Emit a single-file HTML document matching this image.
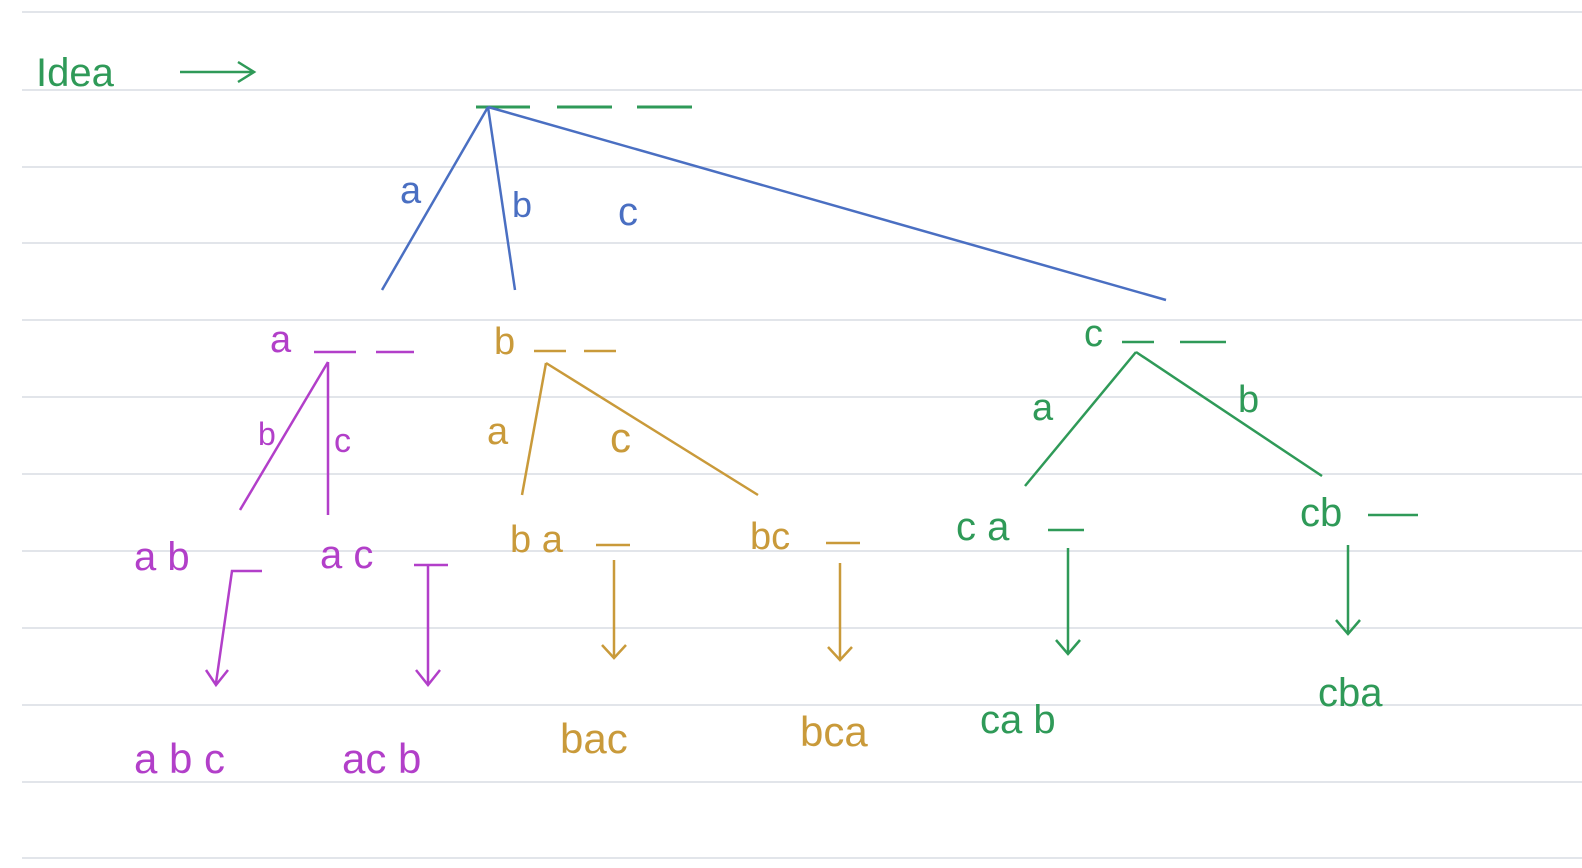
<!DOCTYPE html>
<html><head><meta charset="utf-8"><style>
html,body{margin:0;padding:0;background:#fff;}
svg{display:block;}
text{font-family:"Liberation Sans",sans-serif;}
</style></head><body>
<svg width="1582" height="868" viewBox="0 0 1582 868">
<g id="rules" stroke="#e2e5ea" stroke-width="2"></g>
<g fill="#2f9a58" stroke="#2f9a58">
<text x="36" y="86" font-size="40" stroke="none">Idea</text>
<line x1="180" y1="72" x2="252" y2="72" stroke-width="2.5"/><polyline points="238,62 254,72 238,82" fill="none" stroke-width="2.5"/>
<line x1="476" y1="107" x2="530" y2="107" stroke-width="3"/><line x1="557" y1="107" x2="612" y2="107" stroke-width="3"/><line x1="637" y1="107" x2="692" y2="107" stroke-width="3"/>
</g>
<g stroke="#4a6fc2" stroke-width="2.5" fill="#4a6fc2">
<line x1="488" y1="107" x2="382" y2="290"/><line x1="488" y1="107" x2="515" y2="290"/><line x1="488" y1="107" x2="1166" y2="300"/>
<text x="400" y="203" font-size="38" stroke="none">a</text><text x="512" y="217" font-size="36" stroke="none">b</text><text x="618" y="225" font-size="40" stroke="none">c</text>
</g>
<g stroke="#b23fc9" stroke-width="2.5" fill="#b23fc9">
<text x="270" y="352" font-size="38" stroke="none">a</text><line x1="314" y1="352" x2="356" y2="352"/><line x1="376" y1="352" x2="414" y2="352"/>
<line x1="328" y1="362" x2="240" y2="510"/><line x1="328" y1="362" x2="328" y2="515"/>
<text x="258" y="445" font-size="32" stroke="none">b</text><text x="334" y="452" font-size="34" stroke="none">c</text>
<text x="134" y="570" font-size="40" stroke="none">a b</text><text x="320" y="568" font-size="40" stroke="none">a c</text>
<polyline points="262,571 232,571 216,683" fill="none"/><polyline points="206,670 216,685 228,670" fill="none"/>
<line x1="414" y1="565" x2="448" y2="565"/><line x1="428" y1="565" x2="428" y2="683"/><polyline points="416,670 428,685 440,670" fill="none"/>
<text x="134" y="773" font-size="42" stroke="none">a b c</text><text x="342" y="773" font-size="42" stroke="none">ac b</text>
</g>
<g stroke="#c99a3a" stroke-width="2.5" fill="#c99a3a">
<text x="494" y="354" font-size="38" stroke="none">b</text><line x1="534" y1="351" x2="566" y2="351"/><line x1="584" y1="351" x2="616" y2="351"/>
<line x1="546" y1="363" x2="522" y2="495"/><line x1="546" y1="363" x2="758" y2="495"/>
<text x="487" y="444" font-size="38" stroke="none">a</text><text x="610" y="452" font-size="42" stroke="none">c</text>
<text x="510" y="552" font-size="38" stroke="none">b a</text><line x1="596" y1="545" x2="630" y2="545"/>
<text x="750" y="549" font-size="38" stroke="none">bc</text><line x1="826" y1="543" x2="860" y2="543"/>
<line x1="614" y1="560" x2="614" y2="656"/><polyline points="602,645 614,658 626,645" fill="none"/>
<line x1="840" y1="563" x2="840" y2="658"/><polyline points="828,647 840,660 852,647" fill="none"/>
<text x="560" y="753" font-size="42" stroke="none">bac</text><text x="800" y="746" font-size="42" stroke="none">bca</text>
</g>
<g stroke="#2f9a58" stroke-width="2.5" fill="#2f9a58">
<text x="1084" y="346" font-size="38" stroke="none">c</text><line x1="1122" y1="342" x2="1154" y2="342"/><line x1="1180" y1="342" x2="1226" y2="342"/>
<line x1="1136" y1="352" x2="1025" y2="486"/><line x1="1136" y1="352" x2="1322" y2="476"/>
<text x="1032" y="420" font-size="38" stroke="none">a</text><text x="1238" y="412" font-size="38" stroke="none">b</text>
<text x="956" y="540" font-size="40" stroke="none">c a</text><line x1="1048" y1="530" x2="1084" y2="530"/>
<text x="1300" y="526" font-size="40" stroke="none">cb</text><line x1="1368" y1="515" x2="1418" y2="515"/>
<line x1="1068" y1="548" x2="1068" y2="652"/><polyline points="1056,640 1068,654 1080,640" fill="none"/>
<line x1="1348" y1="545" x2="1348" y2="632"/><polyline points="1336,620 1348,634 1360,620" fill="none"/>
<text x="980" y="733" font-size="40" stroke="none">ca b</text><text x="1318" y="706" font-size="40" stroke="none">cba</text>
</g>
</svg>
<script>
const ruleYs=[12,90,167,243,320,397,474,551,628,705,782,858];
const g=document.getElementById('rules');
ruleYs.forEach(y=>{const l=document.createElementNS('http://www.w3.org/2000/svg','line');


l.setAttribute('x1',22);l.setAttribute('x2',1582);l.setAttribute('y1',y);l.setAttribute('y2',y);g.appendChild(l);});
</script>
</body></html>
